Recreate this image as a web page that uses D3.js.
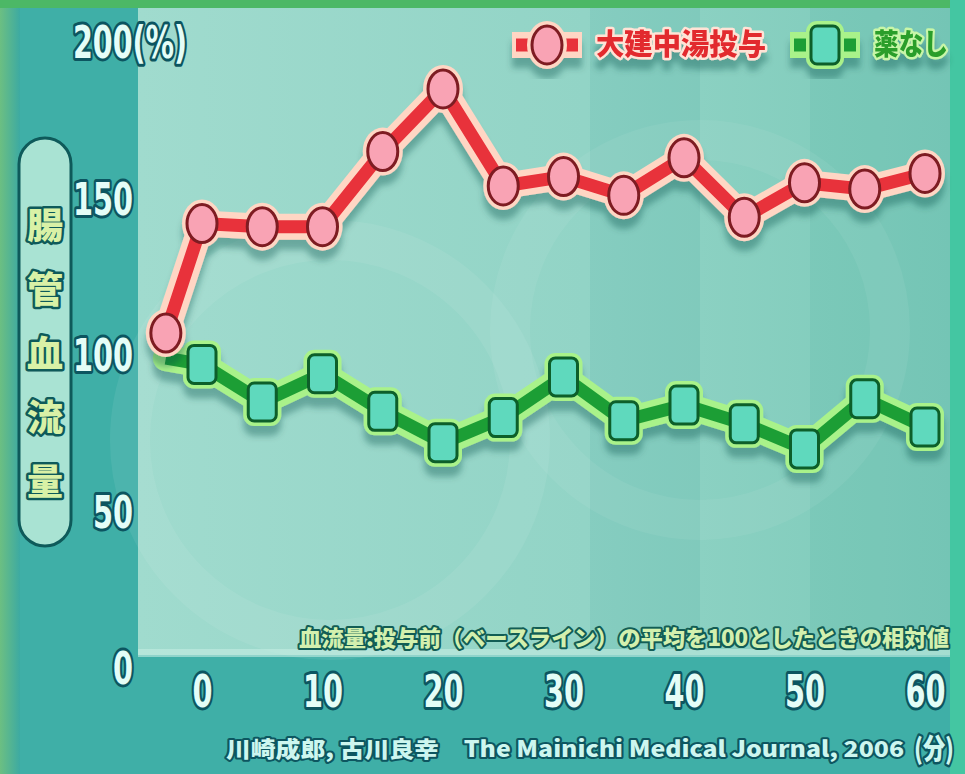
<!DOCTYPE html>
<html>
<head>
<meta charset="utf-8">
<script src="https://cdn.jsdelivr.net/npm/d3@7"></script>
<style>
  body { margin: 0; background: #3aaaa2; }
  svg { display: block; }
  .num {
    font-family: "DejaVu Sans Condensed", "DejaVu Sans", Roboto, sans-serif;
    font-weight: bold;
    fill: #e4fdf7;
    stroke: #0c5560;
    stroke-width: 6px;
    paint-order: stroke;
    stroke-linejoin: round;
  }
  .jp {
    font-family: "Noto Sans CJK JP", sans-serif;
    font-weight: 900;
    paint-order: stroke;
    stroke-linejoin: round;
  }
</style>
</head>
<body>
<div id="chart"></div>
<script>
// data (minutes after dose, relative blood flow %)
const times = [-3, 0, 5, 10, 15, 20, 25, 30, 35, 40, 45, 50, 55, 60]
const daikenchuto = [107, 142, 141, 141, 165, 185, 154, 157, 151, 163, 144, 155, 153, 158]
const noDrug = [99, 97, 85, 94, 82, 72, 80, 93, 79, 84, 78, 70, 86, 77]
const seriesNames = ['大建中湯投与', '薬なし']
const yTicks = [0, 50, 100, 150, 200]
const xTicks = [0, 10, 20, 30, 40, 50, 60]
const yTitle = ['腸', '管', '血', '流', '量']
const yUnit = '(%)'
const note = '血流量:投与前（ベースライン）の平均を100としたときの相対値'
const source = '川崎成郎, 古川良幸　The Mainichi Medical Journal, 2006'

const width = 965
const height = 774
const panelLeft = 138
const panelRight = 950
const panelTop = 8
const panelBottom = 655
const digitWidth = 20
const unitWidth = 54

const red = { core: '#e8323a', halo: '#ffd6c4', fill: '#f9a3b4', edge: '#7e1a22' }
const green = { core: '#1f9e34', halo: '#a9f28a', fill: '#5fd9bd', edge: '#0b5e2a' }

// scales
const scaleX = d3.scaleLinear().domain([0, 60]).range([202, 925])
const scaleY = d3.scaleLinear().domain([0, 200]).range([668, 42])
const yMax = d3.max(yTicks)

const $svg = d3.select('#chart').append('svg')
  .attr('width', width)
  .attr('height', height)

const defs = $svg.append('defs')
const shadow = defs.append('filter').attr('id', 'shadow')
  .attr('x', '-10%').attr('y', '-10%').attr('width', '120%').attr('height', '130%')
shadow.append('feDropShadow')
  .attr('dx', 0).attr('dy', 10).attr('stdDeviation', 3)
  .attr('flood-color', '#0d4a44').attr('flood-opacity', 0.35)

const panelGrad = defs.append('linearGradient').attr('id', 'panelGrad')
  .attr('x1', 0).attr('x2', 1).attr('y1', 0).attr('y2', 0)
panelGrad.append('stop').attr('offset', '0%').attr('stop-color', '#a0dbce')
panelGrad.append('stop').attr('offset', '55%').attr('stop-color', '#92d4c6')
panelGrad.append('stop').attr('offset', '100%').attr('stop-color', '#7ccab9')

const leftGrad = defs.append('linearGradient').attr('id', 'leftGrad')
  .attr('x1', 0).attr('x2', 1).attr('y1', 0).attr('y2', 0)
leftGrad.append('stop').attr('offset', '0%').attr('stop-color', '#6cbf82')
leftGrad.append('stop').attr('offset', '100%').attr('stop-color', '#3daaa2')

// background
$svg.append('rect').attr('width', width).attr('height', height).attr('fill', '#3fafa7')
$svg.append('rect').attr('width', 20).attr('height', height).attr('fill', 'url(#leftGrad)')
$svg.append('rect').attr('width', width).attr('height', 8).attr('fill', '#4cb866')
$svg.append('rect')
  .attr('x', panelLeft).attr('y', panelTop)
  .attr('width', panelRight - panelLeft).attr('height', panelBottom - panelTop)
  .attr('fill', 'url(#panelGrad)')
// studio light bands
$svg.append('rect').attr('x', 590).attr('y', panelTop).attr('width', 110)
  .attr('height', panelBottom - panelTop).attr('fill', '#2f9c92').attr('opacity', 0.12)
$svg.append('rect').attr('x', 810).attr('y', panelTop).attr('width', 140)
  .attr('height', panelBottom - panelTop).attr('fill', '#2f9c92').attr('opacity', 0.1)
$svg.append('circle').attr('cx', 330).attr('cy', 440).attr('r', 200)
  .attr('fill', 'none').attr('stroke', '#ffffff').attr('stroke-width', 40).attr('opacity', 0.07)
$svg.append('circle').attr('cx', 700).attr('cy', 330).attr('r', 190)
  .attr('fill', 'none').attr('stroke', '#ffffff').attr('stroke-width', 40).attr('opacity', 0.06)
$svg.append('rect').attr('x', panelLeft).attr('y', panelBottom - 6)
  .attr('width', panelRight - panelLeft).attr('height', 8).attr('fill', '#c4ece2').attr('opacity', 0.6)
$svg.append('rect').attr('x', panelRight).attr('y', 0).attr('width', width - panelRight)
  .attr('height', height).attr('fill', '#44c6a2')

// y axis title pill
const $pill = $svg.append('g')
$pill.append('rect')
  .attr('x', 19).attr('y', 138).attr('width', 52).attr('height', 408).attr('rx', 26)
  .attr('fill', '#a9e3d3').attr('stroke', '#0e5a5a').attr('stroke-width', 3)
$pill.selectAll('text')
  .data(yTitle)
  .join('text')
  .attr('class', 'jp')
  .attr('x', 45)
  .attr('y', (d, i) => 226 + i * 64)
  .attr('dy', '0.36em')
  .attr('text-anchor', 'middle')
  .style('font-size', '36px')
  .attr('fill', '#d9f1a6')
  .attr('stroke', '#0e5a5a')
  .attr('stroke-width', 5)
  .text(d => d)

// axes
const $yAxis = $svg.append('g')
  .attr('transform', 'translate(133, 0)')
  .call(d3.axisLeft(scaleY).tickValues(yTicks).tickSize(0).tickPadding(0)
    .tickFormat(d => d === yMax ? `${d}${yUnit}` : `${d}`))
$yAxis.select('.domain').remove()
// start-anchored so the squeezed digits end at the axis edge; the top label carries the unit
$yAxis.selectAll('text')
  .attr('class', 'num')
  .attr('fill', null)
  .attr('font-family', null).attr('font-size', null)
  .style('font-size', '44px')
  .attr('text-anchor', 'start')
  .attr('x', d => -String(d).length * digitWidth)
  .attr('dy', '0.36em')
  .attr('textLength', d => String(d).length * digitWidth + (d === yMax ? unitWidth : 0))
  .attr('lengthAdjust', 'spacingAndGlyphs')

const $xAxis = $svg.append('g')
  .attr('transform', 'translate(0, 670)')
  .call(d3.axisBottom(scaleX).tickValues(xTicks).tickSize(0).tickPadding(0))
$xAxis.select('.domain').remove()
$xAxis.selectAll('text')
  .attr('class', 'num')
  .attr('fill', null)
  .attr('font-family', null).attr('font-size', null)
  .style('font-size', '44px')
  .attr('dy', '0.85em')
  .attr('textLength', d => String(d).length * digitWidth)
  .attr('lengthAdjust', 'spacingAndGlyphs')

// note and source
$svg.append('text')
  .attr('class', 'jp')
  .attr('x', 299).attr('y', 638).attr('dy', '0.36em')
  .style('font-size', '22px')
  .attr('fill', '#d3f0ae').attr('stroke', '#125d55').attr('stroke-width', 4)
  .attr('textLength', 650).attr('lengthAdjust', 'spacingAndGlyphs')
  .text(note)

$svg.append('text')
  .attr('class', 'jp')
  .attr('x', 226).attr('y', 749).attr('dy', '0.36em')
  .style('font-size', '22px')
  .attr('fill', '#cdf6ef').attr('stroke', '#0d5660').attr('stroke-width', 4)
  .attr('textLength', 678).attr('lengthAdjust', 'spacingAndGlyphs')
  .text(source)

$svg.append('text')
  .attr('class', 'jp')
  .attr('x', 914).attr('y', 749).attr('dy', '0.36em')
  .style('font-size', '28px')
  .attr('fill', '#cdf6ef').attr('stroke', '#0d5660').attr('stroke-width', 5)
  .attr('textLength', 40).attr('lengthAdjust', 'spacingAndGlyphs')
  .text('(分)')

// series
const line = d3.line().x(d => scaleX(d.t)).y(d => scaleY(d.v))

// firstMarker: index of first drawn marker (the no-drug baseline marker sits under the red one)
function drawSeries(values, col, shape, firstMarker) {
  const pts = times.map((t, i) => ({ t, v: values[i] }))
  const marks = pts.slice(firstMarker)
  const $g = $svg.append('g').attr('filter', 'url(#shadow)')
  $g.append('path').datum(pts).attr('d', line)
    .attr('fill', 'none').attr('stroke', col.halo).attr('stroke-width', 26)
    .attr('stroke-linejoin', 'round').attr('stroke-linecap', 'round')
  drawMarkers($g, marks, shape, col.halo, 'none', 0, 5)
  $g.append('path').datum(pts).attr('d', line)
    .attr('fill', 'none').attr('stroke', col.core).attr('stroke-width', 13)
    .attr('stroke-linejoin', 'round')
  drawMarkers($g, marks, shape, col.fill, col.edge, 3, 0)
}

function drawMarkers($g, pts, shape, fill, stroke, sw, grow) {
  if (shape === 'circle') {
    $g.selectAll(null).data(pts).join('ellipse')
      .attr('cx', d => scaleX(d.t)).attr('cy', d => scaleY(d.v))
      .attr('rx', 15 + grow).attr('ry', 19 + grow)
      .attr('fill', fill).attr('stroke', stroke).attr('stroke-width', sw)
  } else {
    $g.selectAll(null).data(pts).join('rect')
      .attr('x', d => scaleX(d.t) - 14 - grow).attr('y', d => scaleY(d.v) - 19 - grow)
      .attr('width', 28 + grow * 2).attr('height', 38 + grow * 2)
      .attr('rx', 6 + grow)
      .attr('fill', fill).attr('stroke', stroke).attr('stroke-width', sw)
  }
}

drawSeries(noDrug, green, 'square', 1)
drawSeries(daikenchuto, red, 'circle', 0)

// legend
const legend = [
  { name: seriesNames[0], col: red, shape: 'circle', x: 512, len: 170, textColor: '#e22a2e', textEdge: '#ffe3d6' },
  { name: seriesNames[1], col: green, shape: 'square', x: 790, len: 74, textColor: '#2a9e2c', textEdge: '#c8f6a8' }
]
legend.forEach(l => {
  const $l = $svg.append('g').attr('filter', 'url(#shadow)')
  const cx = l.x + 35
  const cy = 45
  $l.append('line').attr('x1', l.x).attr('x2', l.x + 70).attr('y1', cy).attr('y2', cy)
    .attr('stroke', l.col.halo).attr('stroke-width', 26)
  $l.append('line').attr('x1', l.x + 4).attr('x2', l.x + 66).attr('y1', cy).attr('y2', cy)
    .attr('stroke', l.col.core).attr('stroke-width', 13)
  if (l.shape === 'circle') {
    $l.append('ellipse').attr('cx', cx).attr('cy', cy).attr('rx', 20).attr('ry', 24).attr('fill', l.col.halo)
    $l.append('ellipse').attr('cx', cx).attr('cy', cy).attr('rx', 15).attr('ry', 19)
      .attr('fill', l.col.fill).attr('stroke', l.col.edge).attr('stroke-width', 3)
  } else {
    $l.append('rect').attr('x', cx - 19).attr('y', cy - 24).attr('width', 38).attr('height', 48)
      .attr('rx', 11).attr('fill', l.col.halo)
    $l.append('rect').attr('x', cx - 14).attr('y', cy - 19).attr('width', 28).attr('height', 38)
      .attr('rx', 6).attr('fill', l.col.fill).attr('stroke', l.col.edge).attr('stroke-width', 3)
  }
  $l.append('text')
    .attr('class', 'jp')
    .attr('x', l.x + 84).attr('y', cy).attr('dy', '0.36em')
    .style('font-size', '29px')
    .attr('fill', l.textColor).attr('stroke', l.textEdge).attr('stroke-width', 5)
    .attr('textLength', l.len).attr('lengthAdjust', 'spacingAndGlyphs')
    .text(l.name)
})
</script>
</body>
</html>
